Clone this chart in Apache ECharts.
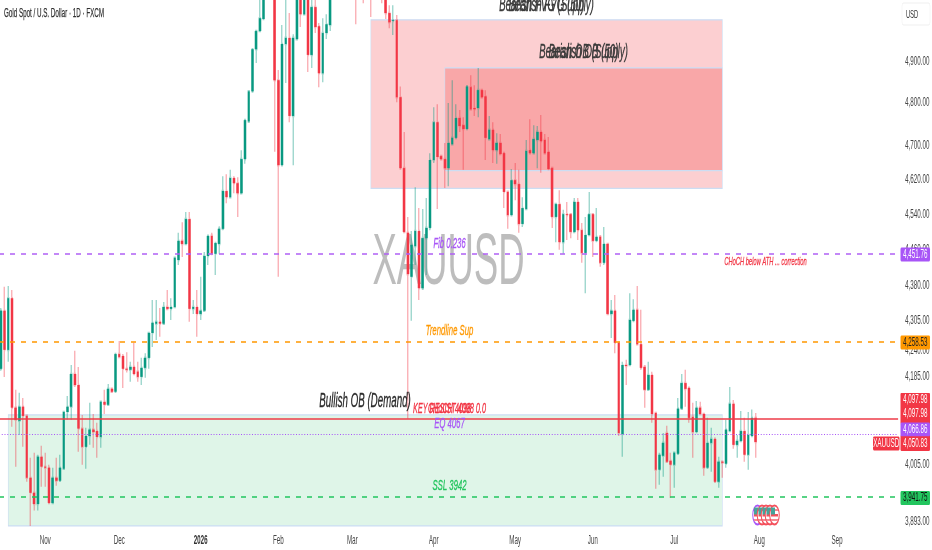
<!DOCTYPE html>
<html><head><meta charset="utf-8">
<style>html,body{margin:0;padding:0;background:#fff;overflow:hidden}#w{width:932px;height:550px;overflow:hidden}#c{width:1864px;height:550px;transform:scaleX(.5);transform-origin:0 0}</style>
<script src="https://cdn.jsdelivr.net/npm/echarts@6/dist/echarts.min.js"></script>
</head><body><div id="w"><div id="c"></div></div>
<script>
const opens=[4202,4326,4242,4353,4121,4094,4123,4104,3979,3949,
3927,4021,4001,3999,3929,3979,3973,3997,4112,4123,
4191,4168,4078,4041,4063,4076,4073,4061,4133,4127,
4160,4154,4233,4229,4202,4200,4206,4196,4185,4204,
4225,4278,4298,4302,4298,4334,4330,4334,4437,4480,
4473,4529,4330,4334,4319,4326,4446,4491,4451,4473,
4507,4593,4579,4623,4611,4588,4667,4756,4828,4931,
4976,5006,5092,5140,5190,4855,4653,4944,4959,4769,
4956,5090,5018,5085,4917,5036,4988,4872,4971,4991,
5070,5100,5130,5110,5150,5170,5120,5090,5110,5085,
5100,5075,5095,5110,5080,5021,5001,5003,4814,4646,
4498,4400,4468,4502,4375,4486,4509,4665,4754,4674,
4667,4646,4702,4717,4764,4747,4738,4838,4788,4788,
4831,4816,4714,4736,4688,4705,4681,4591,4538,4618,
4609,4518,4552,4688,4681,4712,4731,4712,4684,4646,
4534,4563,4477,4540,4540,4500,4568,4504,4453,4493,
4540,4480,4489,4431,4473,4319,4326,4257,4067,4210,
4210,4304,4328,4254,4206,4158,4189,4110,3995,4023,
4069,4013,4005,4027,4119,4172,4162,4102,4071,4121,
4108,3999,4049,4057,3971,4011,4007,4073,4129,4045,
4053,4073,4025,4063,4100];
const closes=[4326,4242,4353,4121,4096,4123,4104,3979,3949,3927,
4021,4001,3999,3929,3979,3973,3999,4112,4123,4191,
4168,4078,4041,4063,4076,4071,4061,4133,4127,4160,
4154,4233,4227,4202,4200,4206,4191,4185,4204,4225,
4278,4300,4302,4298,4334,4330,4334,4442,4480,4473,
4529,4330,4334,4319,4326,4446,4491,4451,4475,4507,
4593,4579,4623,4611,4588,4667,4759,4828,4931,4976,
5008,5092,5140,5200,4855,4653,4944,4959,4769,4959,
5079,5018,5080,4917,5036,4986,4872,4971,4993,5066,
5100,5130,5110,5150,5170,5130,5090,5110,5085,5100,
5075,5095,5110,5080,5021,4998,5003,4814,4646,4500,
4406,4471,4502,4375,4486,4509,4665,4754,4672,4667,
4646,4705,4717,4764,4745,4738,4840,4785,4785,4831,
4814,4717,4736,4688,4705,4679,4591,4538,4618,4609,
4518,4554,4686,4681,4714,4731,4709,4681,4644,4534,
4563,4477,4540,4538,4500,4568,4504,4453,4493,4540,
4480,4489,4431,4473,4319,4326,4257,4069,4210,4208,
4306,4328,4254,4204,4158,4189,4108,3995,4025,4049,
4011,4005,4029,4119,4172,4160,4100,4071,4121,4108,
3999,4049,4057,3971,4011,4009,4076,4129,4045,4053,
4073,4025,4065,4100,4050.83];
const highs=[4332,4378,4380,4371,4158,4152,4141,4106,4019,4029,
4025,4043,4029,4005,3999,4019,4025,4114,4145,4210,
4240,4206,4106,4080,4131,4108,4090,4135,4158,4170,
4162,4235,4261,4233,4237,4217,4257,4217,4225,4235,
4280,4349,4349,4332,4345,4371,4353,4444,4498,4522,
4545,4545,4349,4371,4400,4455,4493,4498,4477,4513,
4627,4632,4642,4627,4625,4688,4761,4831,4934,4978,
5075,5110,5180,5240,5230,4880,4991,5060,5021,4968,
5100,5120,5100,5110,5066,5066,4996,5008,5018,5085,
5120,5150,5160,5170,5190,5200,5150,5130,5130,5120,
5125,5115,5130,5125,5100,5041,5041,5016,4840,4731,
4534,4502,4602,4554,4552,4577,4681,4790,4797,4677,
4705,4800,4855,4797,4783,4766,4843,4867,4843,4885,
4833,4831,4769,4754,4728,4726,4683,4593,4644,4658,
4642,4579,4712,4761,4747,4745,4771,4726,4719,4648,
4565,4595,4550,4568,4543,4577,4577,4520,4534,4591,
4543,4554,4493,4511,4475,4349,4360,4259,4217,4221,
4364,4351,4380,4328,4210,4217,4196,4112,4029,4069,
4084,4029,4030,4141,4191,4200,4163,4131,4135,4133,
4110,4100,4080,4059,4021,4012,4096,4164,4137,4065,
4114,4100,4112,4117,4110];
const lows=[4198,4185,4217,4082,4001,4065,4041,3971,3884,3914,
3914,3961,3961,3927,3927,3963,3973,3995,4096,4096,
4164,4031,4005,3997,4045,4039,4019,4039,4108,4125,
4152,4152,4225,4162,4194,4175,4189,4175,4168,4183,
4202,4248,4263,4270,4295,4328,4306,4332,4426,4444,
4471,4302,4319,4270,4306,4324,4426,4448,4404,4451,
4504,4565,4577,4588,4534,4586,4656,4752,4826,4897,
4973,5004,5080,5110,4684,4400,4651,4848,4754,4653,
4954,4986,5016,4875,4885,4971,4838,4850,4956,4976,
5060,5080,5090,5095,5120,5110,4993,5070,5046,5065,
5011,5062,5070,5046,5006,4983,4966,4802,4642,4498,
4098,4304,4426,4349,4371,4404,4504,4658,4552,4665,
4600,4604,4700,4715,4731,4642,4736,4783,4769,4766,
4812,4665,4712,4658,4656,4677,4554,4507,4536,4572,
4498,4511,4550,4679,4679,4646,4635,4679,4642,4509,
4477,4460,4451,4482,4486,4498,4482,4431,4364,4491,
4444,4477,4422,4426,4317,4267,4235,4063,4021,4168,
4208,4302,4252,4200,4121,4156,4090,3957,3965,3981,
4010,3939,3959,4025,4117,4123,4090,4019,4069,4106,
3983,3997,3991,3969,3959,3979,3999,4072,4037,4019,
4051,4011,3995,4062,4019];
const priceTicks=[4900,4800,4700,4620,4540,4460,4380,4305,4240,4185,4095,4005,3893];
const monthTicks={'2025-11-03':'Nov','2025-12-01':'Dec','2026-01-02':'2026','2026-02-02':'Feb','2026-03-02':'Mar','2026-04-01':'Apr','2026-05-01':'May','2026-06-01':'Jun','2026-07-01':'Jul','2026-08-03':'Aug','2026-09-01':'Sep'};
const holidays=['2025-12-25','2026-01-01'];
const levelValues={fib:4451.76,trend:4258.53,resist:4097.98,eq:4066.86,ssl:3941.75};
const zoneSupply={from:'k100',to:'k195',top:5004,bottom:4599};
const zoneInner={from:'k120',to:'k195',top:4885,bottom:4640};
const zoneDemand={from:'k2',to:'k195',top:4106,bottom:3884};
const SLOTS=243;

const categories=[];
for(let d=new Date(Date.UTC(2025,9,16));categories.length<SLOTS;d=new Date(d.getTime()+864e5)){
  const w=d.getUTCDay(),s=d.toISOString().slice(0,10);
  if(w===0||w===6||holidays.includes(s))continue;
  categories.push(s);
}
const cat=k=>categories[+k.slice(1)];
const GREEN='#089981',RED='#F23645',PGREEN='rgba(8,153,129,.42)',PRED='rgba(242,54,69,.42)';
const FONT='"Liberation Sans",sans-serif';
const X=x=>x*2;
const wicks=opens.map((o,i)=>[o,closes[i],lows[i],highs[i]]);
const bodies=opens.map((o,i)=>[o,closes[i],Math.min(o,closes[i]),Math.max(o,closes[i])]);
const area=(z,c)=>[{xAxis:cat(z.from),yAxis:z.top,itemStyle:{color:c,borderColor:'#CCDDF3',borderWidth:1.2}},{xAxis:cat(z.to),yAxis:z.bottom}];
const mline=(v,c,t,w)=>({yAxis:v,lineStyle:{color:c,type:t,width:w}});

const txt=(s,cx,cy,fill,size)=>({type:'text',z:50,x:X(cx),y:cy,style:{text:s,fill,stroke:fill,lineWidth:.35,font:`italic ${size}px ${FONT}`,align:'center',verticalAlign:'middle'}});
const tag=(s,y,bg,fg,x=900.5,w=29.5)=>[
 {type:'rect',z:60,shape:{x:X(x),y:y-7,width:X(w),height:14,r:2},style:{fill:bg}},
 {type:'text',z:61,x:X(x+w/2),y,style:{text:s,fill:fg,font:`12.5px ${FONT}`,align:'center',verticalAlign:'middle'}}];
const iconXs=[757.5,762,766,770,774.5];
const icons=iconXs.flatMap((x,i)=>[
 {type:'circle',z:40+i,shape:{cx:X(x),cy:515,r:9.5},style:{fill:'#fff',stroke:i?'#F4505C':'#A855F7',lineWidth:2}},
 {type:'rect',z:40+i,shape:{x:X(x)-7,y:509,width:14,height:2},style:{fill:'#F58A92'}},
 {type:'rect',z:40+i,shape:{x:X(x)-7,y:514,width:14,height:2.5},style:{fill:'#F4505C'}},
 {type:'rect',z:40+i,shape:{x:X(x)-7,y:519,width:14,height:2},style:{fill:'#F58A92'}},
 {type:'rect',z:40+i,shape:{x:X(x)-7,y:507.5,width:8,height:7},style:{fill:'#45A49A'}}
]);
const graphics=[
 {type:'text',z:-1,x:X(448.5),y:264,style:{text:'XAUUSD',fill:'#BDBDBD',font:`73px ${FONT}`,align:'center',verticalAlign:'middle'}},
 {type:'text',z:50,x:X(4),y:14,style:{text:'Gold Spot / U.S. Dollar · 1D · FXCM',fill:'#2f2f2f',stroke:'#2f2f2f',lineWidth:.25,font:`12.5px ${FONT}`,align:'left',verticalAlign:'middle'}},
 txt('Bearish FVG (Supply)',546.5,6,'#3a3a3a',19.5),
 txt('Bearish FVG (50)',546.5,6,'#3a3a3a',19.5),
 txt('Bearish OB (Supply)',583.5,53,'#3a3a3a',19.5),
 txt('Bearish OB (50)',583.5,53,'#3a3a3a',19.5),
 txt('Bullish OB (Demand)',365,402,'#2b2b2b',19.5),
 txt('KEY RESIST 4098 0.0',449.5,409,'#F23645',14.5),
 txt('CHoCH 4098',449.5,409,'#F23645',14.5),
 txt('EQ 4067',449.5,424,'#A855F7',15.5),
 txt('Fib 0.236',449.5,244,'#A855F7',15.5),
 txt('Trendline Sup',449.5,331,'#FF9800',15.5),
 txt('SSL 3942',449.5,486,'#22C55E',15.5),
 txt('CHoCH below ATH ... correction',765.5,262,'#F23645',11.5),
 {type:'rect',z:60,shape:{x:X(902),y:3,width:X(28),height:22,r:3},style:{fill:'#fff',stroke:'#EFEFEF',lineWidth:1}},
 {type:'text',z:61,x:X(906),y:14.5,style:{text:'USD',fill:'#333',font:`11.5px ${FONT}`,verticalAlign:'middle'}},
 ...tag('4,451.76',254.5,'#A855F7','#fff'),
 ...tag('4,258.53',342.5,'#FF9800','#222'),
 {type:'rect',z:59,shape:{x:X(900.5),y:393,width:X(29.5),height:58,r:2},style:{fill:RED}},
 ...tag('4,097.98',400,RED,'#fff'),
 ...tag('4,097.98',414,RED,'#fff'),
 ...tag('4,066.86',429.5,'#A855F7','#fff'),
 ...tag('4,050.83',443.5,RED,'#fff'),
 ...tag('XAUUSD',443.5,RED,'#fff',873,26.5),
 ...tag('3,941.75',498,'#22C55E','#111'),
 ...icons
];

const chart=echarts.init(document.getElementById('c'),null,{renderer:'canvas',width:1864,height:550});
chart.setOption({
 animation:false,
 backgroundColor:'#fff',
 grid:{left:-2,top:0,width:SLOTS*7.4,height:527,containLabel:false,outerBoundsMode:'none'},
 xAxis:{type:'category',data:categories,boundaryGap:true,
  axisLine:{show:false},axisTick:{show:false},splitLine:{show:false},
  axisLabel:{interval:(i,v)=>v in monthTicks,hideOverlap:false,color:'#444',fontFamily:FONT,fontSize:12.5,margin:7,
   formatter:v=>{const m=monthTicks[v]||'';return m==='2026'?'{b|2026}':m;},rich:{b:{fontWeight:'bold',fontFamily:FONT,fontSize:12.5,color:'#333'}}}},
 yAxis:{type:'log',logBase:10,position:'right',min:3882,max:5054,
  axisLine:{show:false},axisTick:{show:false},splitLine:{show:false},minorTick:{show:false},
  axisLabel:{customValues:priceTicks,color:'#444',fontFamily:FONT,fontSize:12.5,margin:14,padding:[3,0,0,0],
   formatter:v=>Number(v).toLocaleString('en-US',{minimumFractionDigits:2,maximumFractionDigits:2})}},
 series:[
  {type:'candlestick',name:'wicks',z:2,barWidth:2,data:wicks,
   itemStyle:{color:PGREEN,color0:PRED,borderColor:PGREEN,borderColor0:PRED,borderWidth:2.6},
   markArea:{silent:true,data:[area(zoneSupply,'#FCCFD1'),area(zoneInner,'#F9A7A8'),area(zoneDemand,'#DFF5E8')]}},
  {type:'candlestick',name:'bodies',z:3,barWidth:5.4,data:bodies,
   itemStyle:{color:GREEN,color0:RED,borderColor:GREEN,borderColor0:RED,borderWidth:0},
   markLine:{silent:true,symbol:'none',label:{show:false},z:5,
    data:[mline(levelValues.fib,'#B060F5',[10,12],1.5),mline(levelValues.trend,'#FF9800',[10,12],1.5),
          mline(levelValues.resist,'#EE3B48','solid',1.6),mline(levelValues.eq,'#A855F7',[2,3.5],1.2),
          mline(levelValues.ssl,'#22C55E',[10,12],1.6)]}}
 ],
 graphic:{elements:graphics}
});
</script></body></html>
